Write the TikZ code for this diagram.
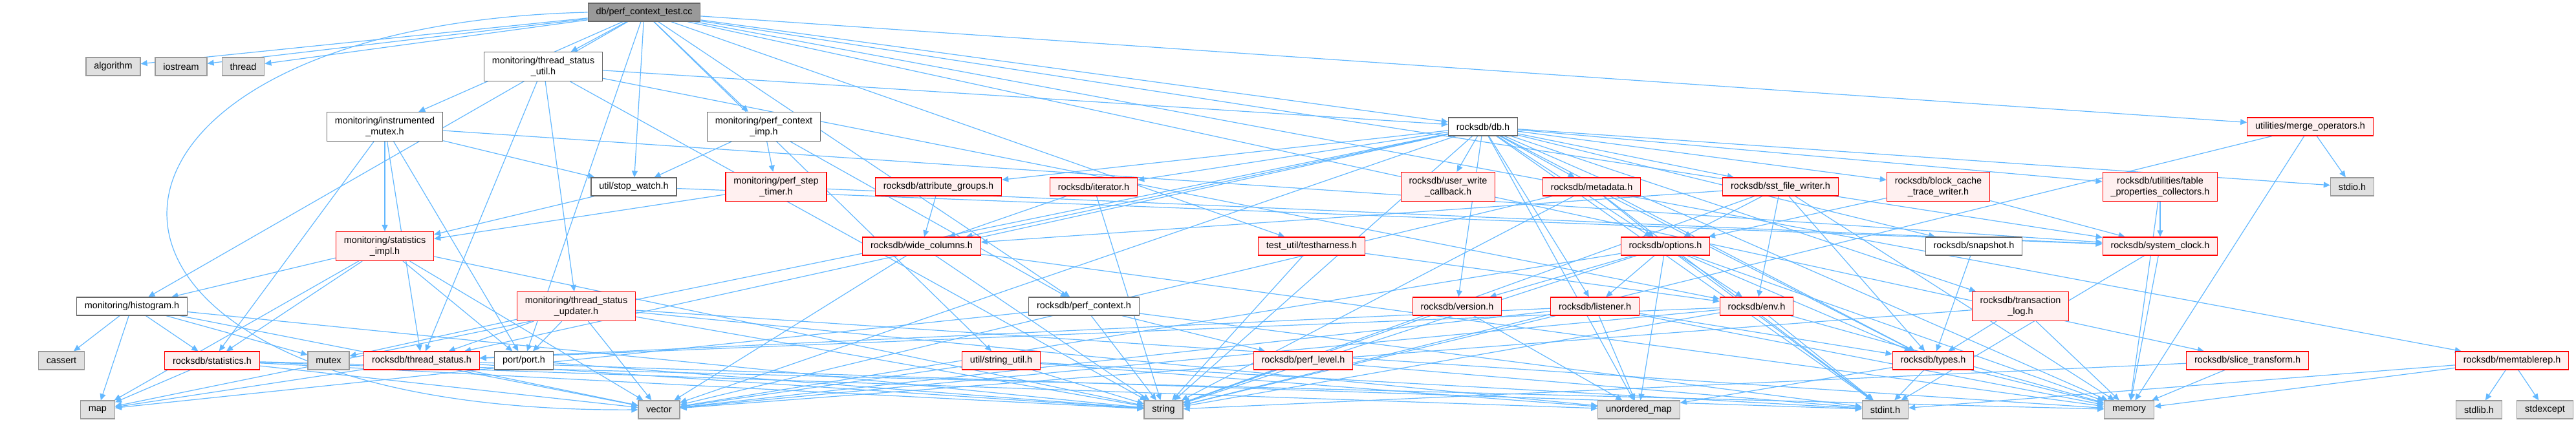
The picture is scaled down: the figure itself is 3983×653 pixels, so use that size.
\documentclass[tikz,border=0pt]{standalone}
\usepackage{fontspec}
\setmainfont{Liberation Sans}
\usepackage{tikz}
\usetikzlibrary{arrows.meta}
\definecolor{edgeblue}{HTML}{63B8FF}
\definecolor{redfill}{HTML}{FFF0F0}
\definecolor{sysfill}{HTML}{E0E0E0}
\pgfdeclarelayer{edges}
\pgfsetlayers{edges,main}
\tikzset{
    file node/.style={
        draw=black!60,
        fill=white,
        line width=0.6pt,
        align=center,
        font=\fontsize{7.2}{8.3}\selectfont,
        inner xsep=6.2pt,
        inner ysep=0pt,
        minimum height=14pt
    },
    two lines/.style={minimum height=22.5pt},
    red node/.style={file node, draw=red, fill=redfill},
    sys node/.style={file node, draw=black!40, fill=sysfill},
    root node/.style={file node, fill=black!40},
    dep edge/.style={
        draw=edgeblue,
        line width=0.6pt,
        -{Triangle[length=5pt,width=4.5pt]}
    }
}
\begin{document}
\begin{tikzpicture}[x=0.5pt,y=-0.5pt]
    \useasboundingbox (0,0) rectangle (3983,653);
    \node[root node] (pct) at (996,19) {db/perf\_context\_test.cc};
    \node[sys node] (algorithm) at (175,103) {algorithm};
    \node[sys node] (iostream) at (280,103) {iostream};
    \node[sys node] (thread) at (376,103) {thread};
    \node[file node,two lines] (tsutil) at (840,103) {monitoring/thread\_status\\\_util.h};
    \node[file node,two lines] (imutex) at (595,196) {monitoring/instrumented\\\_mutex.h};
    \node[file node,two lines] (pcimp) at (1181,196) {monitoring/perf\_context\\\_imp.h};
    \node[file node] (db) at (2293,196) {rocksdb/db.h};
    \node[red node] (mergeops) at (3572,196) {utilities/merge\_operators.h};
    \node[file node] (stopwatch) at (980,289) {util/stop\_watch.h};
    \node[red node,two lines] (pstimer) at (1200,289) {monitoring/perf\_step\\\_timer.h};
    \node[red node] (attrgroups) at (1451,289) {rocksdb/attribute\_groups.h};
    \node[red node] (iterator) at (1691,289) {rocksdb/iterator.h};
    \node[red node,two lines] (uwcb) at (2239,289) {rocksdb/user\_write\\\_callback.h};
    \node[red node] (metadata) at (2461,289) {rocksdb/metadata.h};
    \node[red node] (sstfw) at (2753,289) {rocksdb/sst\_file\_writer.h};
    \node[red node,two lines] (bctw) at (2997,289) {rocksdb/block\_cache\\\_trace\_writer.h};
    \node[red node,two lines] (tpcoll) at (3340,289) {rocksdb/utilities/table\\\_properties\_collectors.h};
    \node[sys node] (stdio) at (3637,289) {stdio.h};
    \node[red node,two lines] (statsimpl) at (595,381) {monitoring/statistics\\\_impl.h};
    \node[red node] (widecols) at (1425,381) {rocksdb/wide\_columns.h};
    \node[red node] (testharness) at (2028,381) {test\_util/testharness.h};
    \node[red node] (options) at (2575,381) {rocksdb/options.h};
    \node[file node] (snapshot) at (3052,381) {rocksdb/snapshot.h};
    \node[red node] (sysclock) at (3340,381) {rocksdb/system\_clock.h};
    \node[file node] (histogram) at (204,474) {monitoring/histogram.h};
    \node[red node,two lines] (tsupdater) at (891,474) {monitoring/thread\_status\\\_updater.h};
    \node[file node] (perfctx) at (1676,474) {rocksdb/perf\_context.h};
    \node[red node] (version) at (2253,474) {rocksdb/version.h};
    \node[red node] (listener) at (2466,474) {rocksdb/listener.h};
    \node[red node] (env) at (2716,474) {rocksdb/env.h};
    \node[red node,two lines] (txnlog) at (3124,474) {rocksdb/transaction\\\_log.h};
    \node[sys node] (cassert) at (95,558) {cassert};
    \node[red node] (statistics) at (328,558) {rocksdb/statistics.h};
    \node[sys node] (mutex) at (508,558) {mutex};
    \node[red node] (tstatus) at (652,558) {rocksdb/thread\_status.h};
    \node[file node] (port) at (810,558) {port/port.h};
    \node[red node] (strutil) at (1548,558) {util/string\_util.h};
    \node[red node] (perflevel) at (2015,558) {rocksdb/perf\_level.h};
    \node[red node] (types) at (2989,558) {rocksdb/types.h};
    \node[red node] (slicetf) at (3475,558) {rocksdb/slice\_transform.h};
    \node[red node] (memtablerep) at (3884,558) {rocksdb/memtablerep.h};
    \node[sys node] (map) at (151,634) {map};
    \node[sys node] (vector) at (1019,634) {vector};
    \node[sys node] (string) at (1799,634) {string};
    \node[sys node] (unorderedmap) at (2534,634) {unordered\_map};
    \node[sys node] (stdint) at (2915,634) {stdint.h};
    \node[sys node] (memory) at (3292,634) {memory};
    \node[sys node] (stdlib) at (3833,634) {stdlib.h};
    \node[sys node] (stdexcept) at (3935,634) {stdexcept};
    \begin{pgfonlayer}{edges}
    \foreach \s/\t in {pct/algorithm,pct/iostream,pct/thread,pct/histogram,pct/imutex,pct/pcimp,pct/tsutil,pct/port,pct/db,pct/memtablerep,pct/perfctx,pct/slicetf,pct/sysclock,pct/testharness,pct/stopwatch,pct/strutil,pct/mergeops,
        tsutil/tsupdater,tsutil/db,tsutil/env,tsutil/tstatus,tsutil/string,
        imutex/statsimpl,imutex/port,imutex/statistics,imutex/sysclock,imutex/tstatus,imutex/stopwatch,
        pcimp/pstimer,pcimp/perfctx,pcimp/stopwatch,
        stopwatch/statsimpl,stopwatch/sysclock,pstimer/statsimpl,pstimer/sysclock,
        statsimpl/histogram,statsimpl/statistics,statsimpl/port,statsimpl/map,statsimpl/string,statsimpl/vector,
        histogram/cassert,histogram/map,histogram/statistics,histogram/mutex,histogram/string,histogram/vector,
        statistics/map,statistics/memory,statistics/string,statistics/unorderedmap,statistics/vector,
        tstatus/map,tstatus/string,tstatus/vector,tstatus/stdint,port/string,
        tsupdater/tstatus,tsupdater/port,tsupdater/vector,tsupdater/string,tsupdater/unorderedmap,tsupdater/memory,tsupdater/mutex,
        perfctx/perflevel,perfctx/string,perfctx/map,perfctx/stdint,perflevel/string,perflevel/stdint,
        strutil/string,strutil/vector,strutil/unorderedmap,strutil/stdint,
        widecols/string,widecols/vector,widecols/memory,iterator/string,iterator/widecols,attrgroups/widecols}
      \draw[dep edge] (\s) -- (\t);
    \foreach \s/\t in {db/stdint,db/stdio,db/map,db/memory,db/string,db/unorderedmap,db/vector,db/bctw,db/iterator,db/listener,db/metadata,db/options,db/snapshot,db/sstfw,db/tstatus,db/txnlog,db/types,db/uwcb,db/version,db/widecols,db/attrgroups,db/tpcoll,
        options/stdint,options/memory,options/string,options/unorderedmap,options/vector,options/env,options/listener,options/types,options/version,
        metadata/options,metadata/stdint,metadata/string,metadata/vector,metadata/types,
        sstfw/env,sstfw/options,sstfw/types,sstfw/widecols,sstfw/memory,sstfw/string,
        bctw/options,bctw/sysclock,tpcoll/sysclock,tpcoll/memory,
        listener/memory,listener/string,listener/unorderedmap,listener/vector,listener/tstatus,listener/types,
        version/string,version/unorderedmap,
        env/stdint,env/memory,env/string,env/vector,env/tstatus,
        types/stdint,types/memory,types/unorderedmap,snapshot/types,
        txnlog/memory,txnlog/vector,txnlog/types,sysclock/stdint,sysclock/memory,
        mergeops/stdio,mergeops/memory,mergeops/string,slicetf/memory,slicetf/string,
        memtablerep/stdlib,memtablerep/stdexcept,memtablerep/memory,memtablerep/stdint,
        testharness/env,testharness/string}
      \draw[dep edge] (\s) -- (\t);
    % vector is reached round the left side
    \draw[dep edge] (pct.west) .. controls (40,40) and (20,640) .. (vector.west);
    \end{pgfonlayer}
\end{tikzpicture}
\end{document}
